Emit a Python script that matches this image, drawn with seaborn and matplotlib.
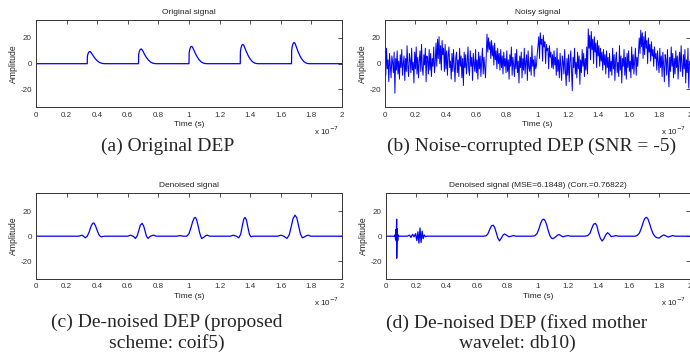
import numpy as np
import seaborn as sns
import matplotlib.pyplot as plt

# time axis in units of 1e-7 s
xticks = [0, 0.2, 0.4, 0.6, 0.8, 1.0, 1.2, 1.4, 1.6, 1.8, 2.0]
xtick_labels = ['0', '0.2', '0.4', '0.6', '0.8', '1', '1.2', '1.4', '1.6', '1.8', '2']
yticks = [-20, 0, 20]

# (a) original signal
orig_t = [0,
          0.335, 0.336, 0.340, 0.346, 0.352, 0.358, 0.366, 0.376, 0.388, 0.400, 0.415, 0.430, 0.445, 0.455,
          0.670, 0.671, 0.675, 0.681, 0.687, 0.693, 0.701, 0.711, 0.723, 0.735, 0.750, 0.765, 0.780, 0.790,
          1.000, 1.001, 1.005, 1.011, 1.017, 1.023, 1.031, 1.041, 1.053, 1.065, 1.080, 1.095, 1.110, 1.120,
          1.335, 1.336, 1.340, 1.346, 1.352, 1.358, 1.366, 1.376, 1.388, 1.400, 1.415, 1.430, 1.445, 1.455,
          1.670, 1.671, 1.675, 1.681, 1.687, 1.693, 1.701, 1.711, 1.723, 1.735, 1.750, 1.765, 1.780, 1.790,
          2.0]
orig_y = [0,
          0, 5.9, 7.8, 9.1, 9.5, 9.0, 7.6, 5.7, 3.8, 2.3, 0.95, 0.3, 0.05, 0,
          0, 7.1, 9.4, 11.0, 11.5, 10.9, 9.2, 6.9, 4.6, 2.8, 1.15, 0.35, 0.06, 0,
          0, 8.4, 11.1, 13.0, 13.5, 12.8, 10.8, 8.1, 5.4, 3.2, 1.35, 0.4, 0.07, 0,
          0, 9.3, 12.3, 14.4, 15.0, 14.3, 12.0, 9.0, 6.0, 3.6, 1.5, 0.45, 0.08, 0,
          0, 10.2, 13.5, 15.8, 16.5, 15.7, 13.2, 9.9, 6.6, 4.0, 1.65, 0.5, 0.08, 0,
          0]

# (b) noisy signal, 401 samples from 0 to 2
noisy_y = [
    5, -9, 12, -4, 3, -14, 8, -2, -11, 6, 1, -7, 9, -23, 4, -5, 10, -8, 2, -12,
    7, -3, 11, -9, 0, 6, -13, 4, -6, 14, -2, -10, 8, 3, -7, 12, -5, 1, -15, 9,
    -4, 13, -8, 5, -11, 2, 10, -6, 15, -3, -9, 7, -1, 12, -14, 6, 3, -8, 11, -5,
    8, -10, 4, -2, 13, -7, 1, 16, -2, 19, 4, 21, 0, 14, -5, 18, 7, 12, -6, 15,
    -4, 10, -9, 6, 13, -3, 2, -12, 8, -6, 11, -1, -14, 5, 9, -7, 3, -10, 12, -2,
    6, -11, 4, -17, 9, -3, 7, -8, 1, 13, -5, -9, 10, -2, 5, -13, 8, 0, -6, 11,
    -7, 3, -12, 9, -4, 6, -10, 2, 12, -8, 5, -3, -11, 7, 23, 9, 20, 11, 17, 4,
    18, 6, 14, -1, 16, 3, 10, -4, 12, 0, 8, -5, 11, -3, 6, -8, 9, -2, 4, -7,
    10, -6, 3, -12, 7, -2, 13, -9, 5, -1, -10, 8, -4, 11, -7, 2, -15, 6, -3, 9,
    -11, 4, -5, 12, -8, 1, 7, -13, 10, -3, -6, 5, -9, 14, -2, 3, -10, 6, -4, -1,
    8, 14, 21, 4, 24, 15, 19, 2, 22, 13, 17, 0, 15, 10, 12, -4, 14, 5, 9, -3,
    7, -4, 10, -1, 5, -9, 12, -6, 3, -11, 8, -2, -13, 6, 1, -8, 11, -5, -17, 4,
    -9, 7, -14, 2, 10, -6, -21, 5, -3, 12, -8, 1, -11, 9, -4, 6, -16, 3, -7, 11,
    -2, 8, -10, 4, -5, 13, -8, 27, 12, 22, 3, 25, 11, 19, 0, 21, 9, 16, -3, 18,
    6, 14, -2, 12, 2, 9, -5, 11, -1, 7, -8, 10, -3, 5, -11, 8, -6, 2, -9, 12,
    -4, 7, -13, 3, 9, -7, 1, -10, 14, -5, 6, -15, 4, -2, 11, -9, 5, -12, 8, -3,
    10, -6, 2, -11, 13, -4, 7, -8, 3, 12, -9, 5, -2, 9, 20, 8, 26, 13, 24, 4,
    21, 7, 25, 12, 18, 0, 20, 9, 15, 2, 17, 6, 11, -2, 13, 4, 8, -5, 10, 1,
    -7, 12, -3, 6, -10, 9, -1, -14, 7, 3, -9, 11, -4, -18, 5, -6, 13, -2, 8, -11,
    4, -8, 10, -3, 6, -12, 2, 9, -6, 14, -1, -10, 7, -4, 11, -15, 3, -7, 12, -19,
    2]
noisy_t = np.linspace(0, 2, len(noisy_y))

# (c) denoised, proposed scheme (coif5)
den_t = [0,
         0.28, 0.30, 0.31, 0.322, 0.335, 0.348, 0.36, 0.37, 0.378, 0.388, 0.40, 0.412, 0.425, 0.438, 0.45,
         0.60, 0.617, 0.635, 0.65, 0.662, 0.672, 0.682, 0.694, 0.704, 0.714, 0.722, 0.732, 0.745, 0.758, 0.77, 0.785,
         0.92, 0.94, 0.96, 0.985, 1.0, 1.012, 1.024, 1.034, 1.042, 1.05, 1.06, 1.07, 1.082, 1.095, 1.11, 1.12, 1.135,
         1.27, 1.29, 1.31, 1.325, 1.338, 1.348, 1.358, 1.366, 1.375, 1.385, 1.395, 1.405, 1.418, 1.43,
         1.58, 1.60, 1.62, 1.64, 1.655, 1.667, 1.68, 1.693, 1.705, 1.717, 1.728, 1.74, 1.755, 1.77, 1.78, 1.795,
         2.0]
den_y = [0,
         0, 0.8, 0, -1.3, 0, 3.5, 8.0, 10.2, 10.5, 8.5, 4.5, 1.0, -0.6, -0.2, 0,
         0, 0.8, 0, -1.8, 0.5, 4.5, 8.8, 10.2, 8.0, 3.5, 0, -1.8, -0.3, 0.5, 0.8, 0,
         0, 0.5, 0, 0, 2.0, 6.5, 11.5, 14.5, 14.9, 13.0, 8.0, 2.5, -1.8, -1.0, 0.5, 0.8, 0,
         0, 0.8, 0, -1.3, 1.5, 8.0, 13.5, 14.9, 13.0, 7.0, 1.5, -0.5, 0, 0,
         0, 0.8, 0, -1.8, 1.0, 7.0, 14.0, 16.7, 14.5, 8.0, 2.0, -1.3, -0.5, 0.5, 0.8, 0,
         0]

# (d) denoised, fixed mother wavelet (db10)
db_t = [0,
        0.055, 0.06, 0.063, 0.066, 0.068, 0.070, 0.0705, 0.074, 0.077, 0.08, 0.085,
        0.14, 0.155, 0.165, 0.175, 0.185, 0.195, 0.203, 0.21, 0.217, 0.224, 0.231, 0.238, 0.245, 0.252, 0.26, 0.27,
        0.64, 0.66, 0.672, 0.684, 0.695, 0.706, 0.716, 0.726, 0.737, 0.748, 0.76, 0.772, 0.781, 0.795, 0.81, 0.825, 0.84, 0.855,
        0.96, 0.98, 0.995, 1.008, 1.02, 1.03, 1.04, 1.05, 1.06, 1.07, 1.08, 1.09, 1.10, 1.115, 1.13, 1.14, 1.155, 1.165, 1.18, 1.2, 1.215,
        1.31, 1.33, 1.345, 1.357, 1.368, 1.38, 1.39, 1.40, 1.412, 1.424, 1.436, 1.448, 1.46, 1.472, 1.485, 1.50, 1.515, 1.53,
        1.64, 1.655, 1.67, 1.683, 1.695, 1.705, 1.715, 1.725, 1.737, 1.75, 1.762, 1.775, 1.787, 1.80, 1.815, 1.83, 1.845, 1.86, 1.875, 1.89, 1.905,
        2.0]
db_y = [0,
        0, 1.0, -2.5, 5.5, -4.0, 13.5, -17.5, 6.0, -3.5, 1.0, 0,
        0, 0.8, -1.0, 1.5, -0.5, 2.0, -3.5, 3.5, -5.5, 6.5, -5.0, 4.0, -2.0, 1.0, -0.3, 0,
        0, 0.3, 2.0, 5.5, 8.2, 8.75, 7.0, 3.0, -1.5, -3.75, -1.5, 1.0, 1.75, 0.8, -0.5, 0, 0.5, 0,
        0, 0.3, 2.0, 6.0, 10.5, 13.0, 13.5, 12.0, 8.5, 4.0, 0.5, -1.5, -2.0, -0.8, 0.8, 1.3, 0.3, -0.5, 0, 0.5, 0,
        0, 0.5, 2.5, 6.5, 9.5, 10.2, 8.0, 3.0, -1.5, -3.8, -2.0, 1.0, 2.8, 1.5, -0.4, 0, 0.5, 0,
        0, 0.5, 2.5, 6.5, 11.0, 14.0, 15.0, 14.0, 10.0, 5.0, 1.5, -0.5, -1.3, -1.5, 0, 1.0, 0.2, -0.7, 0, 0.5, 0,
        0]

titles = ['Original signal', 'Noisy signal', 'Denoised signal',
          'Denoised signal (MSE=6.1848) (Corr.=0.76822)']
captions = ['(a) Original DEP', '(b) Noise-corrupted DEP (SNR = -5)',
            '(c) De-noised DEP (proposed\nscheme: coif5)',
            '(d) De-noised DEP (fixed mother\nwavelet: db10)']

sns.set_style('white')
plt.rcParams['font.family'] = ['Liberation Sans', 'DejaVu Sans']
plt.rcParams['axes.unicode_minus'] = False

fig = plt.figure(figsize=(6.9, 3.56), dpi=100)
W, H = 690.0, 356.0
# axes boxes in pixels: left, top, right, bottom
boxes = [(36, 19.5, 342, 107.5), (385, 19.5, 689.5, 107.5),
         (36, 193, 342, 279), (386, 193, 689.5, 279)]
series = [(orig_t, orig_y, 0.9), (noisy_t, noisy_y, 0.7),
          (den_t, den_y, 0.9), (db_t, db_y, 0.9)]
caption_pos = [(168, 146), (532, 146), (167, 333), (517, 333)]

for i in range(4):
    l, t, r, b = boxes[i]
    ax = fig.add_axes([l / W, 1 - b / H, (r - l) / W, (b - t) / H])
    xs, ys, lw = series[i]
    sns.lineplot(x=xs, y=ys, ax=ax, color='#0000ff', lw=lw,
                 estimator=None, sort=False)
    ax.set_xlim(0, 2)
    ax.set_ylim(-34, 34.3)
    ax.set_xticks(xticks)
    ax.set_xticklabels(xtick_labels)
    ax.set_yticks(yticks)
    ax.tick_params(direction='in', top=True, right=True, length=3, width=0.6,
                   labelsize=5.8, colors='#333333', pad=3)
    for sp in ax.spines.values():
        sp.set_color('#333333')
        sp.set_linewidth(0.7)
    ax.set_title(titles[i], fontsize=6, color='#222222', pad=4)
    ax.set_xlabel('Time (s)', fontsize=6, color='#222222', labelpad=2)
    ax.set_ylabel('Amplitude', fontsize=6.2, color='#222222', labelpad=2)
    ax.text(0.99, -0.27, 'x 10$^{-7}$', transform=ax.transAxes, ha='right',
            va='center', fontsize=5.8, color='#222222')
    cx, cy = caption_pos[i]
    fig.text(cx / W, 1 - cy / H, captions[i], ha='center', va='center',
             fontsize=14, family='Liberation Serif', linespacing=1.2)

fig.savefig('out.png', dpi=100)
